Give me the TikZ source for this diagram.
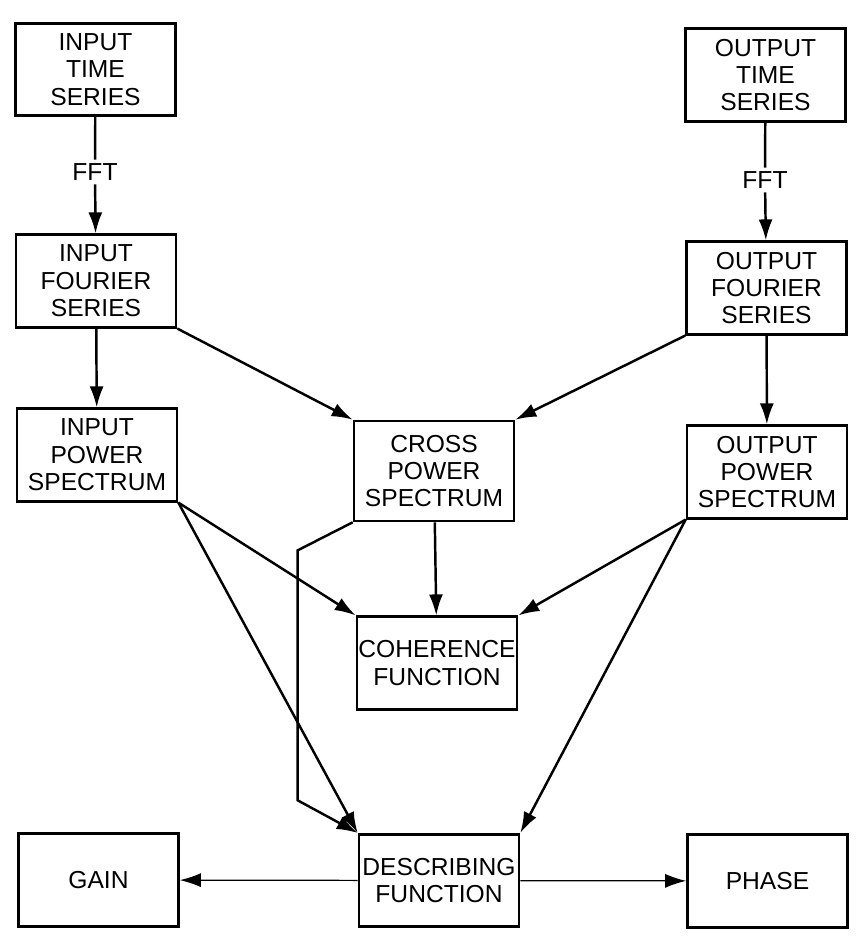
\documentclass[tikz,border=0pt]{standalone}
\usepackage{fontspec}
\setmainfont{Liberation Sans}
\usepackage{tikz}
\usetikzlibrary{positioning,arrows.meta}
\tikzset {
    box/.style={
        draw=black,
        line width=1.5pt,
        rectangle, % Set the shape as a rectangle
        minimum width=3.2cm,
        minimum height=1.85cm,
        inner sep=0.5pt,
        align=center,
    },
    label box/.style={
        draw=none,
        inner sep=2pt,
    },
    link/.style={
        line width=1.4pt,
        -{Latex[length=4.2mm,width=2.8mm]},
    },
    plain link/.style={
        line width=1.4pt,
    },
    thin link/.style={
        line width=0.7pt,
        -{Latex[length=4.2mm,width=2.8mm]},
    },
}

\begin{document}
\begin{tikzpicture}
[font=\fontsize{14}{15.6}\selectfont]
\useasboundingbox (0,0) rectangle (17.18,-18.82);

\node[box] at (1.91, -1.39) (inTime) {INPUT\\TIME\\SERIES};
\node[box] at (15.31, -1.5) (outTime) {OUTPUT\\TIME\\SERIES};
\node[label box] at (1.9, -3.44) (fftIn) {FFT};
\node[label box] at (15.3, -3.6) (fftOut) {FFT};

\node[box] at (1.92, -5.62) (inFourier) {INPUT\\FOURIER\\SERIES};
\node[box] at (15.33, -5.76) (outFourier) {OUTPUT\\FOURIER\\SERIES};

\node[box] at (1.94, -9.1) (inPower) {INPUT\\POWER\\SPECTRUM};
\node[box, minimum height=2.0cm] at (8.68, -9.42) (crossPower) {CROSS\\POWER\\SPECTRUM};
\node[box] at (15.34, -9.44) (outPower) {OUTPUT\\POWER\\SPECTRUM};

\node[box] at (8.74, -13.26) (coherence) {COHERENCE\\FUNCTION};

\node[box] at (1.97, -17.6) (gain) {GAIN};
\node[box] at (8.78, -17.61) (describing) {DESCRIBING\\FUNCTION};
\node[box] at (15.35, -17.62) (phase) {PHASE};

\draw[plain link] (inTime) -- (fftIn);
\draw[link] (fftIn) -- (inFourier);
\draw[plain link] (outTime) -- (fftOut);
\draw[link] (fftOut) -- (outFourier);

\draw[link] (inFourier) -- (inPower);
\draw[link] (outFourier) -- (outPower);
\draw[link] (inFourier.south east) -- (crossPower.north west);
\draw[link] (outFourier.south west) -- (crossPower.north east);

\draw[link] (inPower.south east) -- (coherence.north west);
\draw[link] (crossPower) -- (coherence);
\draw[link] (outPower.south west) -- (coherence.north east);

\draw[link] (inPower.south east) -- (describing.north west);
\draw[link] (outPower.south west) -- (describing.north east);
\draw[link] (crossPower.south west) -- ++(-1.1, -0.56) -- ++(0, -5.0) -- (describing.north west);

\draw[thin link] (describing) -- (gain);
\draw[thin link] (describing) -- (phase);
\end{tikzpicture}
\end{document}
